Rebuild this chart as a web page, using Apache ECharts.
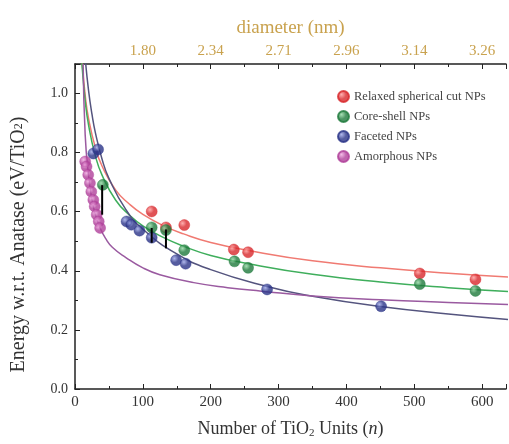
<!DOCTYPE html>
<html><head><meta charset="utf-8">
<script src="https://cdn.jsdelivr.net/npm/echarts@6/dist/echarts.min.js"></script>
<style>html,body{margin:0;padding:0;background:#fff}#c{width:509px;height:444px}</style>
</head><body><div id="c"></div>
<script>
// ---- data ----
const seriesNames = ['Relaxed spherical cut NPs', 'Core-shell NPs', 'Faceted NPs', 'Amorphous NPs'];
const redPts   = [[113,0.601],[134,0.547],[161,0.555],[234,0.472],[255,0.463],[508,0.391],[590,0.371]];
const greenPts = [[41,0.691],[113,0.547],[134,0.538],[161,0.470],[235,0.432],[255,0.410],[508,0.355],[590,0.332]];
const bluePts  = [[27,0.797],[34,0.811],[76,0.567],[83,0.556],[95,0.536],[113,0.512],[149,0.436],[163,0.424],[283,0.337],[451,0.280]];
const pinkPts  = [[15,0.770],[17,0.753],[19.5,0.725],[22,0.697],[24,0.668],[27,0.640],[29,0.618],[32,0.590],[35,0.567],[37,0.545]];
const redCurve   = [[10,1.12],[15,0.995],[20,0.915],[30,0.817],[40,0.754],[60,0.673],[80,0.626],[100,0.591],[130,0.553],[160,0.525],[200,0.496],[260,0.467],[350,0.434],[450,0.410],[550,0.392],[640,0.379]];
const greenCurve = [[10,1.106],[15,0.976],[20,0.893],[30,0.789],[40,0.723],[60,0.639],[80,0.589],[100,0.552],[130,0.513],[160,0.483],[200,0.452],[260,0.422],[350,0.388],[450,0.362],[550,0.343],[640,0.330]];
const blueCurve  = [[12,1.22],[15,1.12],[20,1.01],[25,0.93],[30,0.868],[40,0.777],[50,0.713],[75,0.607],[100,0.541],[150,0.457],[200,0.404],[283,0.347],[350,0.314],[450,0.279],[550,0.254],[640,0.235]];
const pinkCurve  = [[12,1.10],[15,0.86],[20,0.72],[25,0.64],[30,0.59],[37,0.545],[45,0.51],[55,0.48],[75,0.445],[100,0.41],[125,0.387],[175,0.36],[225,0.343],[275,0.331],[350,0.315],[450,0.302],[550,0.293],[640,0.286]];
const errBars = [[40,0.690,0.590],[113,0.545,0.495],[134,0.540,0.476]];
const topLabels = {100:'1.80',200:'2.34',300:'2.71',400:'2.96',500:'3.14',600:'3.26'};

const serif = 'Liberation Serif, DejaVu Serif, serif';
function sphere(c, light){
  return {type:'radial', x:0.35, y:0.35, r:0.7, colorStops:[{offset:0,color:light},{offset:0.5,color:c},{offset:1,color:c}]};
}
const dotColors = [['#d8282c','#ff9a9a'],['#1f7a3c','#8fd6a0'],['#2b3488','#9aa4e6'],['#b0409a','#f0a8e0']];
const lineColors = ['#f07a72','#3fae5c','#54547e','#9a5aa0'];

const chart = echarts.init(document.getElementById('c'));
const scatter = (name, data, i) => ({
  name, type:'scatter', data, symbolSize:11, z:5,
  itemStyle:{color: sphere(dotColors[i][0], dotColors[i][1]), borderColor: dotColors[i][0], borderWidth:0.5}
});
const curve = (data, i) => ({
  type:'line', data, smooth:true, symbol:'none', z:3, silent:true,
  lineStyle:{color:lineColors[i], width:1.5}
});
chart.setOption({
  animation:false,
  grid:{left:75, top:64, right:0, bottom:54},
  legend:{
    data: seriesNames.map((n,i)=>({name:n, itemStyle:{color:sphere(dotColors[i][0],dotColors[i][1])}})),
    orient:'vertical', left:332, top:84, itemWidth:11, itemHeight:11, itemGap:5,
    textStyle:{fontFamily:serif, fontSize:12.5, color:'#444', lineHeight:15}
  },
  xAxis:[{
    type:'value', min:0, max:635, interval:100, position:'bottom',
    axisLine:{lineStyle:{color:'#222', width:1.5}},
    axisTick:{inside:true, length:5, lineStyle:{color:'#222'}},
    minorTick:{show:true, splitNumber:2, length:3, lineStyle:{color:'#222'}},
    splitLine:{show:false},
    axisLabel:{fontFamily:serif, fontSize:15, color:'#333', margin:6, showMaxLabel:false},
    name:'Number of TiO{s|2} Units ({i|n})', nameLocation:'middle', nameGap:31,
    nameTextStyle:{fontFamily:serif, fontSize:18, color:'#333',
      rich:{s:{fontFamily:serif, fontSize:11, color:'#333', verticalAlign:'bottom', padding:[8,0,0,0]},
            i:{fontFamily:serif, fontSize:18, fontStyle:'italic', color:'#333'}}}
  },{
    type:'value', min:0, max:635, interval:100, position:'top',
    axisLine:{lineStyle:{color:'#222', width:1.5}},
    axisTick:{inside:true, length:5, lineStyle:{color:'#222'}},
    minorTick:{show:true, splitNumber:2, length:3, lineStyle:{color:'#222'}},
    splitLine:{show:false},
    axisLabel:{fontFamily:serif, fontSize:15, color:'#c9a24e', margin:5, formatter:v=>topLabels[v]||''},
    name:'diameter (nm)', nameLocation:'middle', nameGap:26,
    nameTextStyle:{fontFamily:serif, fontSize:19, color:'#c9a24e'}
  }],
  yAxis:{
    type:'value', min:0, max:1.1, interval:0.2,
    axisLine:{show:true, lineStyle:{color:'#222', width:1.5}},
    axisTick:{inside:true, length:5, lineStyle:{color:'#222'}},
    minorTick:{show:true, splitNumber:2, length:3, lineStyle:{color:'#222'}},
    splitLine:{show:false},
    axisLabel:{fontFamily:serif, fontSize:14, color:'#333', margin:7, showMaxLabel:false, formatter:v=>v.toFixed(1)},
    name:'Energy w.r.t. Anatase (eV/TiO{s|2})', nameLocation:'middle', nameGap:46,
    nameTextStyle:{fontFamily:serif, fontSize:20, color:'#333', padding:[0,36,0,0],
      rich:{s:{fontFamily:serif, fontSize:12, color:'#333'}}}
  },
  series:[
    curve(redCurve,0), curve(greenCurve,1), curve(blueCurve,2), curve(pinkCurve,3),
    {
      type:'custom', z:6, silent:true, data:errBars,
      renderItem:(params, api)=>{
        const a = api.coord([api.value(0), api.value(1)]);
        const b = api.coord([api.value(0), api.value(2)]);
        return {type:'line', shape:{x1:a[0],y1:a[1],x2:b[0],y2:b[1]}, style:{stroke:'#000', lineWidth:2}};
      }
    },
    scatter(seriesNames[0], redPts, 0),
    scatter(seriesNames[1], greenPts, 1),
    scatter(seriesNames[2], bluePts, 2),
    scatter(seriesNames[3], pinkPts, 3)
  ]
});
</script></body></html>
